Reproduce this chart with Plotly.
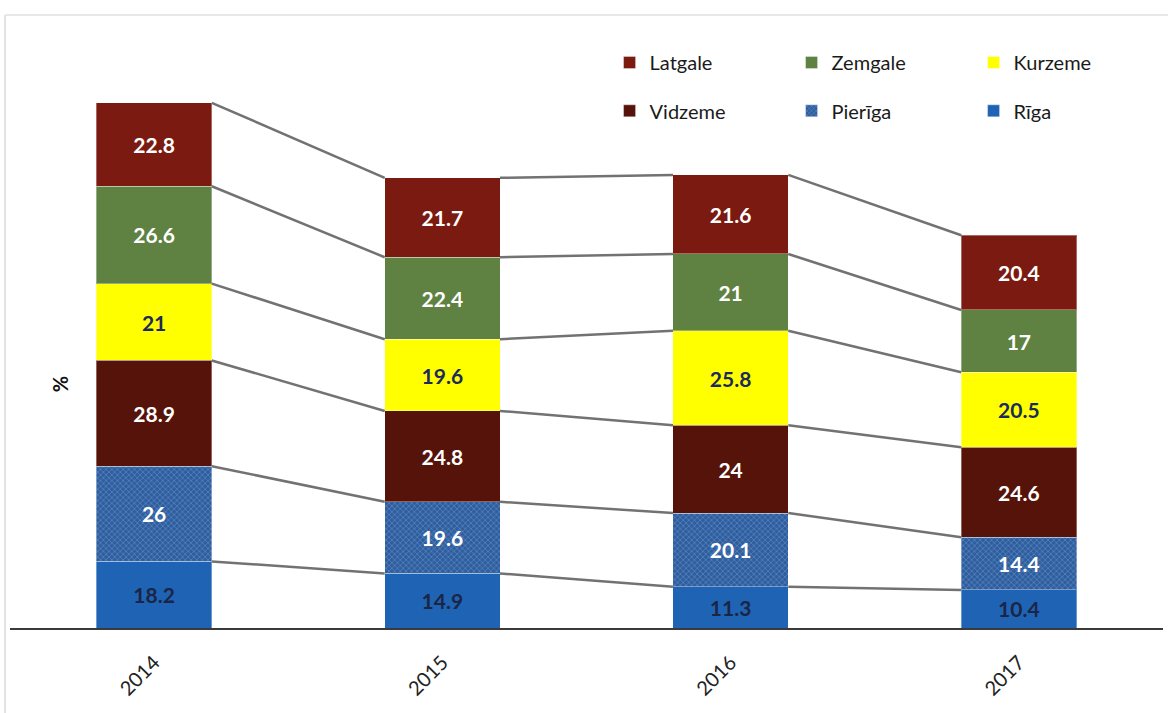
import plotly.graph_objects as go

years = ["2014", "2015", "2016", "2017"]
riga = [18.2, 14.9, 11.3, 10.4]
pieriga = [26, 19.6, 20.1, 14.4]
vidzeme = [28.9, 24.8, 24, 24.6]
kurzeme = [21, 19.6, 25.8, 20.5]
zemgale = [26.6, 22.4, 21, 17]
latgale = [22.8, 21.7, 21.6, 20.4]

series = [
    ("Rīga", riga, "#1F64B4", "#1B2545", None),
    ("Pierīga", pieriga, "#2F5E9E", "#FFFFFF", "x"),
    ("Vidzeme", vidzeme, "#561309", "#FFFFFF", None),
    ("Kurzeme", kurzeme, "#FFFF00", "#1B2A5C", None),
    ("Zemgale", zemgale, "#5F8141", "#FFFFFF", None),
    ("Latgale", latgale, "#7A1A10", "#FFFFFF", None),
]
legend_of = {"Latgale": "legend", "Zemgale": "legend", "Kurzeme": "legend",
             "Vidzeme": "legend2", "Pierīga": "legend2", "Rīga": "legend2"}
rank = {"Latgale": 1, "Zemgale": 2, "Kurzeme": 3, "Vidzeme": 1, "Pierīga": 2, "Rīga": 3}

BAR_W = 0.4
xs = list(range(len(years)))

fig = go.Figure()

cum = [0.0] * len(years)
boundaries = []
for name, vals, color, tcolor, pat in series:
    marker = dict(color=color, line=dict(color="rgba(255,255,255,0.35)", width=1))
    if pat:
        marker["pattern"] = dict(shape=pat, size=4, solidity=0.25,
                                 fgcolor="#6A93C9", bgcolor=color, fillmode="replace")
    fig.add_trace(go.Bar(
        x=xs, y=vals, name=name, width=BAR_W,
        marker=marker,
        text=[f"{v:g}" for v in vals], textposition="inside",
        insidetextanchor="middle",
        textfont=dict(family="Lato", size=21, color=tcolor, weight="bold"),
        legend=legend_of[name], legendrank=rank[name],
        hoverinfo="skip",
    ))
    cum = [c + v for c, v in zip(cum, vals)]
    boundaries.append(list(cum))

# connector lines between stack boundaries
for b in boundaries:
    lx, ly = [], []
    for i in range(len(years) - 1):
        lx += [i + BAR_W / 2, i + 1 - BAR_W / 2, None]
        ly += [b[i], b[i + 1], None]
    fig.add_trace(go.Scatter(x=lx, y=ly, mode="lines",
                             line=dict(color="#727272", width=2.5),
                             showlegend=False, hoverinfo="skip"))

leg_common = dict(orientation="h", xanchor="left", yanchor="middle",
                  entrywidth=137, entrywidthmode="pixels", traceorder="normal",
                  font=dict(family="Lato", size=20, color="#1a1a1a"),
                  bgcolor="rgba(0,0,0,0)", itemclick=False)

fig.update_layout(
    width=1168, height=713,
    margin=dict(l=10, r=5, t=79, b=85, autoexpand=False),
    paper_bgcolor="white", plot_bgcolor="white",
    barmode="stack",
    bargap=0.6,
    uniformtext=dict(mode=False),
    legend=dict(x=0.52, y=1.03, **leg_common),
    legend2=dict(x=0.52, y=0.942, **leg_common),
    xaxis=dict(range=[-0.5, 3.5], tickvals=xs, ticktext=years, tickangle=-45,
               showline=True, linecolor="#3a3a3a", linewidth=2,
               showgrid=False, zeroline=False, ticks="", ticklabelstandoff=13,
               tickfont=dict(family="Lato", size=20, color="#222")),
    yaxis=dict(range=[0, 150], showticklabels=False, showgrid=False,
               zeroline=False, showline=False),
    annotations=[dict(text="<b>%</b>", xref="paper", yref="paper",
                      x=0.043, y=0.443, xanchor="center", yanchor="middle",
                      showarrow=False, textangle=-90,
                      font=dict(family="Lato", size=20, color="#111"))],
    shapes=[
        dict(type="line", xref="paper", yref="paper", x0=-0.0043, x1=-0.0043,
             y0=-0.2, y1=1.1166, line=dict(color="#E2E2E2", width=2)),
        dict(type="line", xref="paper", yref="paper", x0=-0.0043, x1=1.01,
             y0=1.1166, y1=1.1166, line=dict(color="#E8E8E8", width=2)),
    ],
)

fig.write_html("out.html", config={"displayModeBar": False},
               post_script="document.body.style.margin='0';")
